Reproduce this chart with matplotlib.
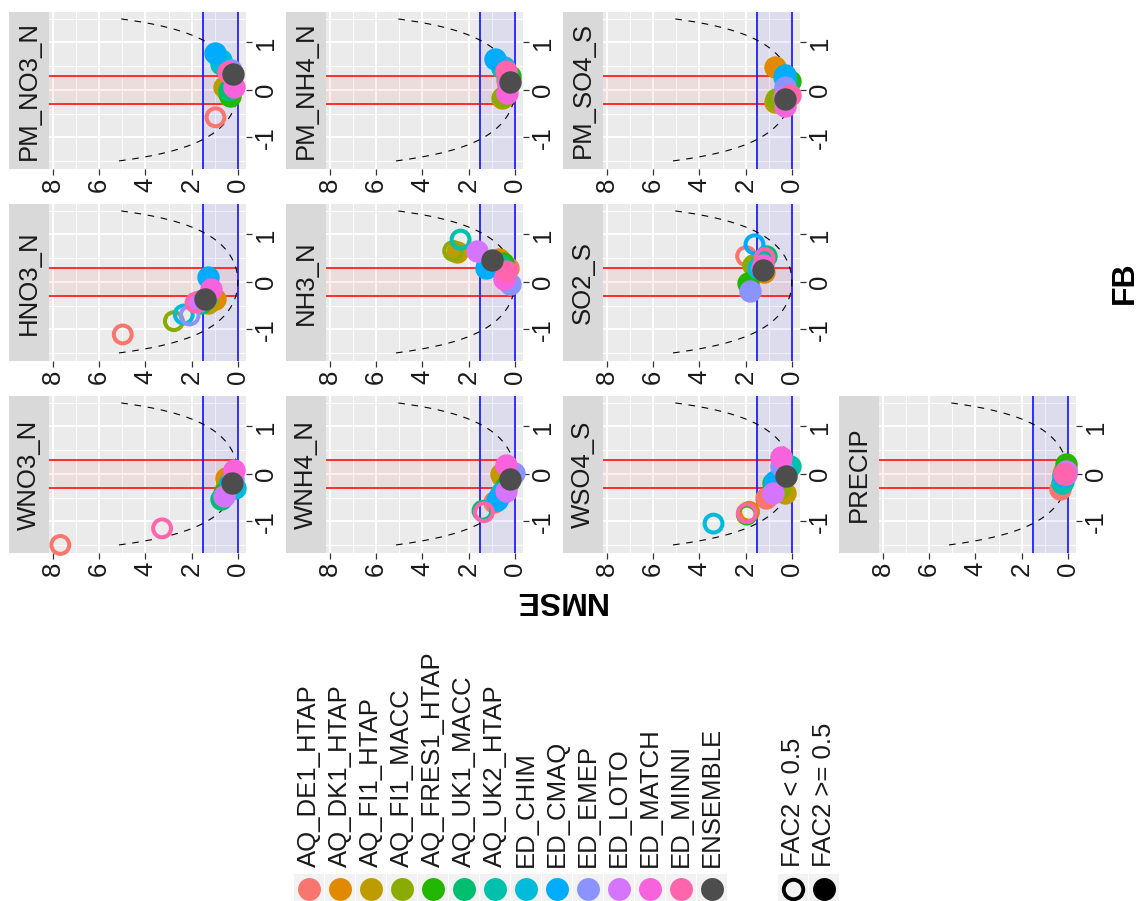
import numpy as np
import matplotlib
matplotlib.use('Agg')
import matplotlib.pyplot as plt
from matplotlib.patches import Rectangle

plt.rcParams['font.family'] = ['Liberation Sans', 'DejaVu Sans']

W, H = 1142, 901

models = ['AQ_DE1_HTAP', 'AQ_DK1_HTAP', 'AQ_FI1_HTAP', 'AQ_FI1_MACC', 'AQ_FRES1_HTAP',
          'AQ_UK1_MACC', 'AQ_UK2_HTAP', 'ED_CHIM', 'ED_CMAQ', 'ED_EMEP', 'ED_LOTO',
          'ED_MATCH', 'ED_MINNI', 'ENSEMBLE']
colors = ['#F8766D', '#E18A00', '#BE9C00', '#8CAB00', '#24B700', '#00BE70', '#00C1AB',
          '#00BBDA', '#00ACFC', '#8B93FF', '#D575FE', '#F962DD', '#FF65AC', '#4D4D4D']

panels = ['WNO3_N', 'HNO3_N', 'PM_NO3_N', 'WNH4_N', 'NH3_N', 'PM_NH4_N',
          'WSO4_S', 'SO2_S', 'PM_SO4_S', 'PRECIP']

nan = np.nan
# NMSE, FB and FAC2 < 0.5 flag (1 = open circle) per model, model order as above
nmse = {
    'PM_NO3_N': [0.97, 0.45, 0.6, 0.45, 0.35, 0.4, 0.75, 0.72, 1.0, 0.3, 0.35, 0.15, 0.45, 0.22],
    'HNO3_N':   [4.98, 1.0, 1.3, 2.77, 1.55, 1.6, 1.4, 2.34, 1.3, 2.09, 1.7, 1.18, 1.83, 1.44],
    'WNO3_N':   [7.68, 0.5, 0.4, 0.5, 0.6, 0.75, 0.3, 0.14, 0.35, 0.2, 0.6, 0.15, 3.28, 0.25],
    'PM_NH4_N': [0.3, 0.35, 0.55, 0.5, 0.2, 0.3, 0.55, 0.48, 0.84, 0.3, 0.3, 0.33, 0.4, 0.22],
    'NH3_N':    [0.3, 0.69, 2.5, 2.67, 0.5, 0.6, 2.35, 1.2, 1.27, 0.22, 1.63, 0.48, 0.4, 0.98],
    'WNH4_N':   [0.9, 0.6, 0.55, 0.3, 0.4, 1.4, 0.65, 0.6, 0.76, 0.02, 0.4, 0.38, 1.34, 0.22],
    'PM_SO4_S': [0.3, 0.72, 0.75, 0.7, 0.1, 0.2, 0.3, 0.35, 0.32, 0.32, 0.35, 0.32, 0.1, 0.32],
    'SO2_S':    [1.98, 1.2, 1.6, 1.7, 1.9, 1.11, 1.3, 1.47, 1.62, 1.8, 1.3, 1.25, 1.18, 1.23],
    'WSO4_S':   [1.11, 1.85, 0.32, 0.5, 1.95, 0.8, 0.1, 3.39, 0.72, 0.46, 0.82, 0.46, 1.95, 0.27],
    'PRECIP':   [0.36, 0.2, 0.15, 0.1, 0.07, 0.2, 0.26, 0.15, 0.2, 0.1, 0.1, 0.14, 0.15, nan],
}
fb = {
    'PM_NO3_N': [-0.58, 0.0, 0.05, -0.05, -0.13, 0.0, 0.55, 0.62, 0.77, 0.42, 0.35, 0.06, 0.38, 0.34],
    'HNO3_N':   [-1.11, -0.37, -0.45, -0.83, -0.4, -0.45, -0.35, -0.69, 0.1, -0.71, -0.4, -0.15, -0.44, -0.36],
    'WNO3_N':   [-1.5, -0.08, -0.2, -0.3, -0.4, -0.54, -0.25, -0.29, -0.2, -0.1, -0.47, 0.07, -1.15, -0.2],
    'PM_NH4_N': [0.1, 0.2, -0.18, -0.15, 0.3, 0.3, 0.45, 0.49, 0.65, 0.2, 0.15, -0.07, 0.4, 0.16],
    'NH3_N':    [0.3, 0.47, 0.62, 0.65, 0.4, 0.35, 0.89, 0.35, 0.29, -0.04, 0.65, 0.05, 0.22, 0.45],
    'WNH4_N':   [-0.6, 0.0, -0.05, -0.2, -0.25, -0.78, -0.45, -0.4, -0.55, 0.02, -0.37, 0.19, -0.81, -0.1],
    'PM_SO4_S': [0.0, 0.49, -0.25, -0.2, 0.18, 0.1, 0.25, 0.28, 0.32, 0.06, -0.15, -0.34, -0.1, -0.2],
    'SO2_S':    [0.54, 0.2, 0.3, 0.35, -0.02, 0.54, 0.4, 0.29, 0.79, -0.2, 0.3, 0.35, 0.5, 0.24],
    'WSO4_S':   [-0.5, -0.8, -0.4, -0.3, -0.86, -0.2, 0.16, -1.05, -0.15, 0.16, -0.4, 0.35, -0.83, -0.05],
    'PRECIP':   [-0.33, 0.0, 0.05, 0.1, 0.2, -0.15, -0.19, -0.05, -0.05, 0.0, 0.05, -0.01, 0.0, nan],
}
fac2_low = {
    'PM_NO3_N': [1, 0, 0, 0, 0, 0, 0, 0, 0, 0, 0, 0, 0, 0],
    'HNO3_N':   [1, 0, 0, 1, 0, 0, 0, 1, 0, 1, 0, 0, 1, 0],
    'WNO3_N':   [1, 0, 0, 0, 0, 0, 0, 0, 0, 0, 0, 0, 1, 0],
    'PM_NH4_N': [0, 0, 0, 0, 0, 0, 0, 0, 0, 0, 0, 0, 0, 0],
    'NH3_N':    [0, 0, 0, 1, 0, 0, 1, 0, 0, 0, 0, 0, 0, 0],
    'WNH4_N':   [0, 0, 0, 0, 0, 1, 0, 0, 0, 0, 0, 0, 1, 0],
    'PM_SO4_S': [0, 0, 0, 0, 0, 0, 0, 0, 0, 0, 0, 0, 0, 0],
    'SO2_S':    [1, 0, 0, 0, 0, 0, 0, 0, 1, 0, 0, 0, 1, 0],
    'WSO4_S':   [0, 1, 0, 0, 1, 0, 0, 1, 0, 0, 0, 0, 1, 0],
    'PRECIP':   [0, 0, 0, 0, 0, 0, 0, 0, 0, 0, 0, 0, 0, 0],
}

FS = 18.5
TXT = '#1A1A1A'


def fig_box(x, y, w, h):
    return [x / W, 1 - (y + h) / H, w / W, h / H]


fig = plt.figure(figsize=(W / 100, H / 100), dpi=100)

col_left = [9, 286, 563, 839]
row_top = [12, 204, 396]
strip_w, panel_w, panel_h = 40, 197, 157

fb_curve = np.linspace(-1.5, 1.5, 300)
nmse_curve = 4 * fb_curve ** 2 / (4 - fb_curve ** 2)

for k, name in enumerate(panels):
    c = k // 3
    r = 2 - k % 3
    x0 = col_left[c]
    y0 = row_top[r]

    sax = fig.add_axes(fig_box(x0, y0, strip_w, panel_h))
    sax.set_facecolor('#D9D9D9')
    sax.set_xticks([])
    sax.set_yticks([])
    for s in sax.spines.values():
        s.set_visible(False)
    sax.text(0.5, 0.5, name, rotation=90, ha='center', va='center',
             fontsize=FS, color=TXT, transform=sax.transAxes)

    ax = fig.add_axes(fig_box(x0 + strip_w, y0, panel_w, panel_h))
    ax.set_facecolor('#EBEBEB')
    ax.set_xlim(8.17, -0.35)
    ax.set_ylim(-1.67, 1.64)
    ax.set_xticks([0, 2, 4, 6, 8])
    ax.set_xticks([1, 3, 5, 7], minor=True)
    ax.set_yticks([-1, 0, 1])
    ax.set_yticks([-1.5, -0.5, 0.5, 1.5], minor=True)
    ax.set_axisbelow(True)
    ax.grid(which='major', color='white', lw=1.4)
    ax.grid(which='minor', color='white', lw=0.7)
    for s in ax.spines.values():
        s.set_visible(False)
    ax.yaxis.tick_right()
    ax.tick_params(which='major', length=4, width=0.9, color='#333333',
                   labelsize=FS, labelcolor=TXT, pad=2)
    ax.tick_params(which='minor', length=0)
    ax.tick_params(axis='x', labelrotation=90)
    ax.tick_params(axis='y', labelrotation=90)
    ax.set_xticklabels(['0', '2', '4', '6', '8'])
    ax.set_yticklabels(['-1', '0', '1'], va='center')

    ax.axvspan(0, 1.5, facecolor=(0.2, 0.2, 1.0, 0.08), lw=0, zorder=1)
    ax.add_patch(Rectangle((0, -0.3), 8.17, 0.6, facecolor=(1.0, 0.0, 0.0, 0.06),
                           lw=0, zorder=1))
    ax.hlines([-0.3, 0.3], 0, 8.17, colors='#FF2020', lw=1.3, zorder=2)
    ax.axvline(0, color='#2020FF', lw=1.3, zorder=2)
    ax.axvline(1.5, color='#2020FF', lw=1.3, zorder=2)
    ax.plot(nmse_curve, fb_curve, color='black', lw=0.8, dashes=(6, 6), zorder=3)

    for i in range(len(models)):
        xv = nmse[name][i]
        yv = fb[name][i]
        if np.isnan(xv):
            continue
        if fac2_low[name][i]:
            ax.scatter([xv], [yv], s=165, facecolors='none', edgecolors=colors[i],
                       linewidths=2.9, zorder=4 + i * 0.01, clip_on=False)
        else:
            ax.scatter([xv], [yv], s=260, color=colors[i], lw=0,
                       zorder=4 + i * 0.01, clip_on=False)

# axis titles
fig.text(560 / W, 1 - 600 / H, 'NMSE', rotation=180, ha='center', va='center',
         fontsize=23, fontweight='bold', color='black')
fig.text(1125 / W, 1 - 283 / H, 'FB', rotation=90, ha='center', va='center',
         fontsize=23, fontweight='bold', color='black')

# colour legend
for i, m in enumerate(models):
    xc = 309 + 31 * i
    kax = fig.add_axes(fig_box(xc - 15, 874, 30, 30))
    kax.set_xlim(0, 1)
    kax.set_ylim(0, 1)
    kax.axis('off')
    kax.add_patch(Rectangle((0, 0), 1, 1, facecolor='#F2F2F2', lw=0))
    kax.plot([0.5], [0.5], 'o', ms=16.5, color=colors[i], mew=0)
    fig.text(xc / W, 1 - 867 / H, m, rotation=90, ha='center', va='bottom',
             fontsize=FS, color=TXT)

# FAC2 legend
fac2_labels = ['FAC2 < 0.5', 'FAC2 >= 0.5']
for j, lab in enumerate(fac2_labels):
    xc = 793 + 31 * j
    kax = fig.add_axes(fig_box(xc - 15, 874, 30, 30))
    kax.set_xlim(0, 1)
    kax.set_ylim(0, 1)
    kax.axis('off')
    kax.add_patch(Rectangle((0, 0), 1, 1, facecolor='#F2F2F2', lw=0))
    if j == 0:
        kax.plot([0.5], [0.5], 'o', ms=14, mfc='none', mec='black', mew=2.8)
    else:
        kax.plot([0.5], [0.5], 'o', ms=16.5, color='black', mew=0)
    fig.text(xc / W, 1 - 867 / H, lab, rotation=90, ha='center', va='bottom',
             fontsize=FS, color=TXT)

fig.savefig('out.png', dpi=100)
